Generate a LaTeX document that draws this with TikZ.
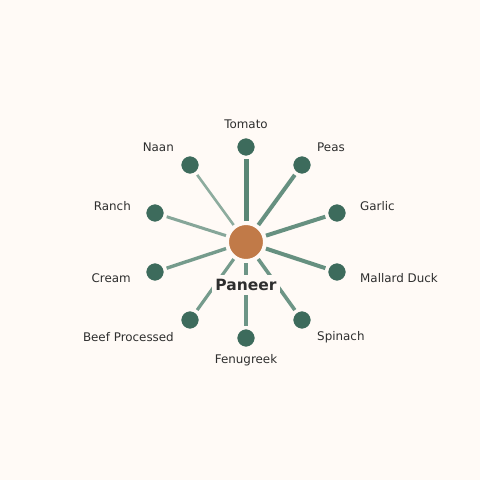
\documentclass[tikz,border=0pt]{standalone}
\usepackage{fontspec}
\setmainfont{DejaVu Sans}
\definecolor{bg}{HTML}{FFFAF6}
\definecolor{leaf}{HTML}{3D6B5C}
\definecolor{hub}{HTML}{C17A48}
\definecolor{edge}{HTML}{5E8B7A}
\definecolor{txt}{HTML}{2E2E2E}
\begin{document}
\begin{tikzpicture}[x=1pt,y=-1pt,
  leafnode/.style={circle,fill=leaf,draw=bg,line width=1.5pt,minimum size=19pt,inner sep=0pt},
  hubnode/.style={circle,fill=hub,draw=bg,line width=2pt,minimum size=36pt,inner sep=0pt},
  lbl/.style={font=\fontsize{11.9}{14}\selectfont,text=txt,inner sep=0pt},
  link/.style={draw=edge,shorten <=2pt,shorten >=2pt}]
\fill[bg] (0,0) rectangle (480,480);
\useasboundingbox (0,0) rectangle (480,480);
\node[hubnode] (c) at (246,242) {};
\node[leafnode] (tom) at (246,147) {};
\node[leafnode] (pea) at (302,165) {};
\node[leafnode] (gar) at (337,213) {};
\node[leafnode] (mal) at (337,272) {};
\node[leafnode] (spi) at (302,320) {};
\node[leafnode] (fen) at (246,338) {};
\node[leafnode] (bee) at (190,320) {};
\node[leafnode] (cre) at (155,272) {};
\node[leafnode] (ran) at (155,213) {};
\node[leafnode] (naa) at (190,165) {};
\draw[link,line width=5pt,draw=edge!85!leaf] (c) -- (tom);
\draw[link,line width=4pt,draw opacity=0.95] (c) -- (pea);
\draw[link,line width=4pt,draw opacity=0.95] (c) -- (gar);
\draw[link,line width=4pt,draw opacity=0.95] (c) -- (mal);
\draw[link,line width=3.6pt,draw opacity=0.9] (c) -- (spi);
\draw[link,line width=3.2pt,draw opacity=0.9] (c) -- (fen);
\draw[link,line width=3.2pt,draw opacity=0.85] (c) -- (bee);
\draw[link,line width=3.4pt,draw opacity=0.85] (c) -- (cre);
\draw[link,line width=3pt,draw opacity=0.75] (c) -- (ran);
\draw[link,line width=2.6pt,draw opacity=0.7] (c) -- (naa);
\node[hubnode] at (c) {};
\foreach \n in {tom,pea,gar,mal,spi,fen,bee,cre,ran,naa} {\node[leafnode] at (\n) {};}
\node[fill=bg,inner xsep=3pt,inner ysep=4pt,text=txt,font=\fontsize{15.5}{18}\bfseries\selectfont] (pl) at (246,285) {Paneer};
\node[lbl] (ltom) at (246,124) {Tomato};
\node[lbl,anchor=west] (lpea) at (317,147) {Peas};
\node[lbl,anchor=west] (lgar) at (360,206) {Garlic};
\node[lbl,anchor=west] (lmal) at (360,278) {Mallard Duck};
\node[lbl,anchor=west] (lspi) at (317,337) {Spinach};
\node[lbl] (lfen) at (246,360) {Fenugreek};
\node[lbl,anchor=east] (lbee) at (174,337) {Beef Processed};
\node[lbl,anchor=east] (lcre) at (131,278) {Cream};
\node[lbl,anchor=east] (lran) at (131,206) {Ranch};
\node[lbl,anchor=east] (lnaa) at (174,147) {Naan};
\end{tikzpicture}
\end{document}
